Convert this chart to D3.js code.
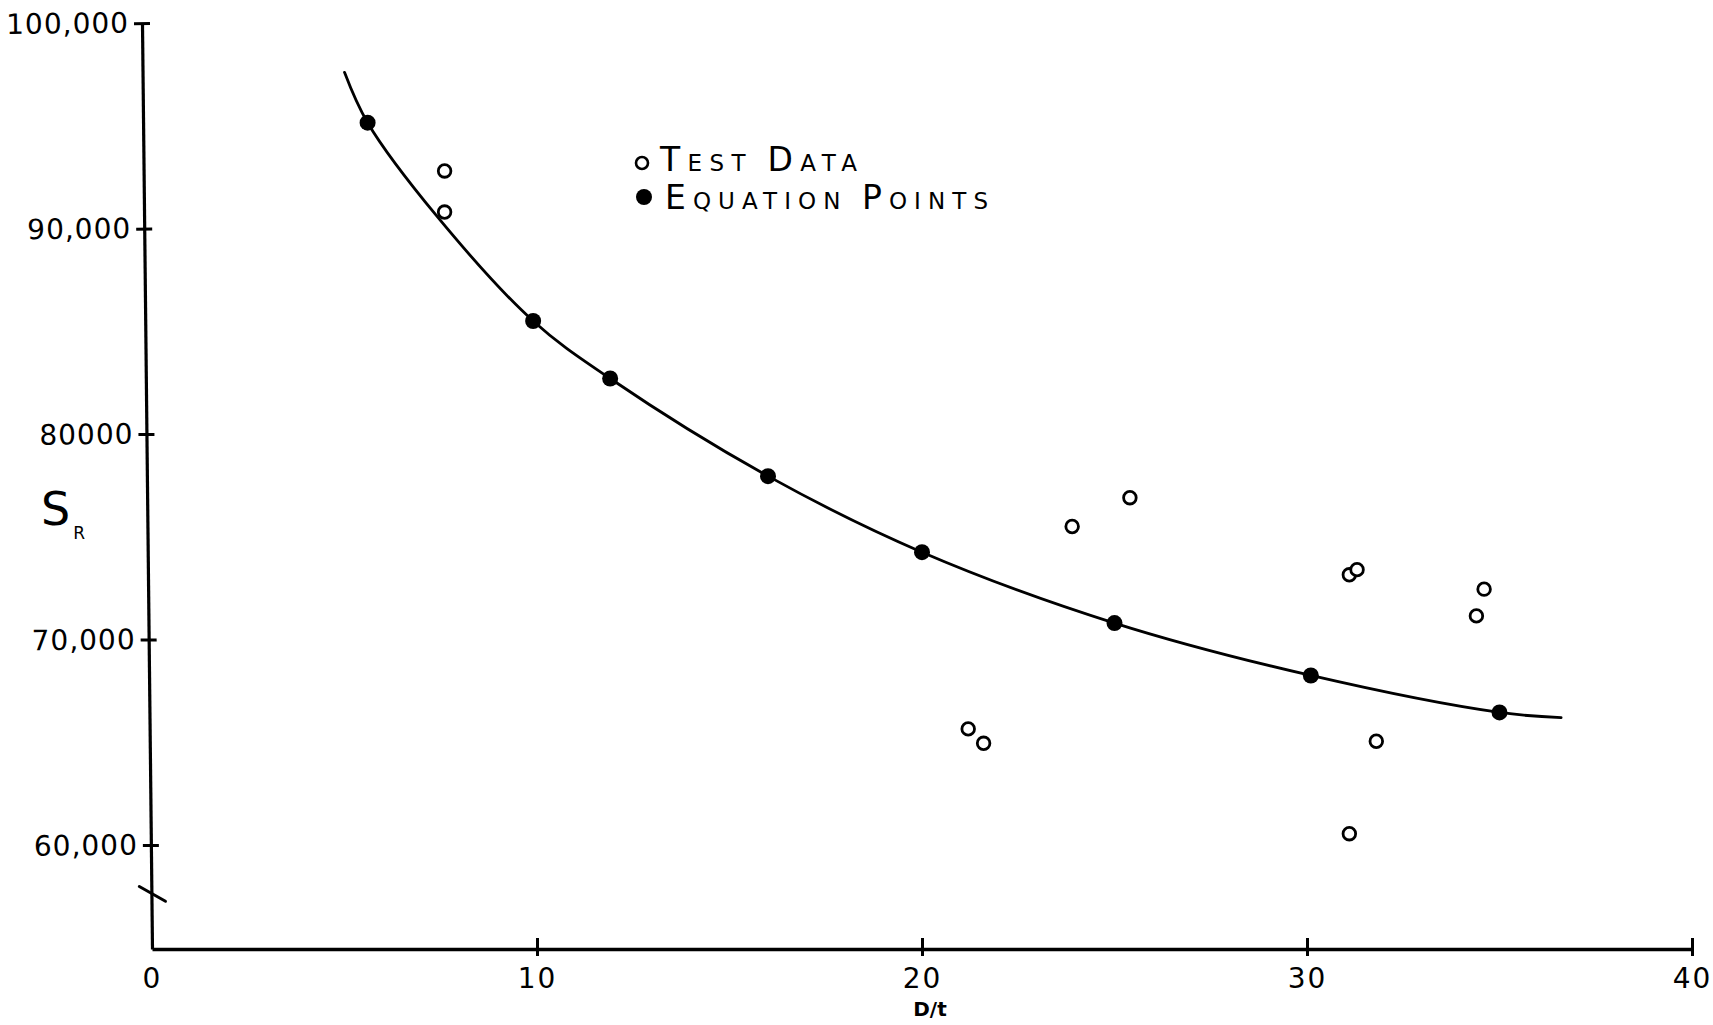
<!DOCTYPE html>
<html>
<head>
<meta charset="utf-8">
<script src="https://cdn.jsdelivr.net/npm/d3@7"></script>
<style>
  html, body { margin: 0; padding: 0; background: #fff; }
  svg { display: block; }
  text { font-family: "DejaVu Sans", sans-serif; fill: #000; }
</style>
</head>
<body>
<svg id="chart" width="1713" height="1025"></svg>
<script>
// Axis ticks and labels
const xTicks = [0, 10, 20, 30, 40];
const xTickLabels = ["0", "10", "20", "30", "40"];
const yTicks = [60000, 70000, 80000, 90000, 100000];
const yTickLabels = ["60,000", "70,000", "80000", "90,000", "100,000"];

// Equation points (filled dots)
const eqX = [5.6, 9.9, 11.9, 16.0, 20.0, 25.0, 30.1, 35.0];
const eqY = [95150, 85500, 82700, 77950, 74250, 70800, 68250, 66450];

// Test data (open circles)
const testX = [7.6, 7.6, 21.2, 21.6, 23.9, 25.4, 31.1, 31.3, 34.4, 34.6, 31.8, 31.1];
const testY = [92800, 90800, 65650, 64950, 75500, 76900, 73150, 73400, 71150, 72450, 65050, 60550];

// Hand-faired curve through the equation points
const curveX = [5.0, 5.6, 7.4, 9.9, 11.9, 16.0, 20.0, 25.0, 30.1, 35.0, 36.6];
const curveY = [97600, 95150, 90600, 85500, 82700, 77950, 74250, 70800, 68250, 66450, 66200];

const svg = d3.select("#chart");
const ink = "#000";

// y axis has a break below 60,000; the corner sits a little under 55,000
const x = d3.scaleLinear().domain([0, 40]).range([152, 1692]);
const y = d3.scaleLinear().domain([54940, 100000]).range([949, 23]);

const x0 = x(0), y0 = y.range()[0];

// ---- Y axis (drawn with a slight lean, as on the sheet) ----
const yAxis = d3.axisLeft(y)
  .tickValues(yTicks)
  .tickFormat((d, i) => yTickLabels[i])
  .tickSize(0)
  .tickSizeOuter(0)
  .tickPadding(13);

const gy = svg.append("g")
  .attr("transform", `translate(${x0},0) rotate(-0.62,0,${y0})`)
  .call(yAxis);
gy.select(".domain").attr("stroke", ink).attr("stroke-width", 3.2);
gy.selectAll(".tick line").attr("x1", -8).attr("x2", 8)
  .attr("stroke", ink).attr("stroke-width", 3);
gy.selectAll(".tick text")
  .attr("font-size", 28).attr("letter-spacing", 1).attr("fill", ink);

// axis break mark
gy.append("line")
  .attr("x1", -12).attr("y1", y(57600) - 8)
  .attr("x2", 14).attr("y2", y(57600) + 7)
  .attr("stroke", ink).attr("stroke-width", 3).attr("stroke-linecap", "round");

// ---- X axis ----
const xAxis = d3.axisBottom(x)
  .tickValues(xTicks)
  .tickFormat((d, i) => xTickLabels[i])
  .tickSize(0)
  .tickSizeOuter(0)
  .tickPadding(19);

const gx = svg.append("g")
  .attr("transform", `translate(0,${y0})`)
  .call(xAxis);
gx.select(".domain").attr("stroke", ink).attr("stroke-width", 3.4);
gx.selectAll(".tick line")
  .attr("y1", -11).attr("y2", 7)
  .attr("stroke", ink).attr("stroke-width", 3)
  .attr("display", d => d === 0 ? "none" : null);
gx.selectAll(".tick text")
  .attr("font-size", 28).attr("letter-spacing", 2).attr("fill", ink);

// axis titles
svg.append("text")
  .attr("x", 930).attr("y", 1016)
  .attr("text-anchor", "middle")
  .attr("font-size", 20)
  .attr("font-weight", "bold")
  .text("D/t");

const sLabel = svg.append("text").attr("x", 41).attr("y", 525);
sLabel.append("tspan").attr("font-size", 46).text("S");
sLabel.append("tspan").attr("font-size", 17).attr("dx", 3).attr("dy", 14).text("R");

// ---- Fitted curve ----
const curveData = curveX.map((d, i) => [d, curveY[i]]);
svg.append("path")
  .datum(curveData)
  .attr("fill", "none")
  .attr("stroke", ink)
  .attr("stroke-width", 2.8)
  .attr("stroke-linecap", "round")
  .attr("d", d3.line()
    .x(d => x(d[0]))
    .y(d => y(d[1]))
    .curve(d3.curveCatmullRom.alpha(0.5)));

// ---- Equation points ----
svg.append("g").selectAll("circle")
  .data(eqX.map((d, i) => [d, eqY[i]]))
  .join("circle")
  .attr("cx", d => x(d[0]))
  .attr("cy", d => y(d[1]))
  .attr("r", 8)
  .attr("fill", ink);

// ---- Test data ----
svg.append("g").selectAll("circle")
  .data(testX.map((d, i) => [d, testY[i]]))
  .join("circle")
  .attr("cx", d => x(d[0]))
  .attr("cy", d => y(d[1]))
  .attr("r", 6.3)
  .attr("fill", "#fff")
  .attr("stroke", ink)
  .attr("stroke-width", 2.8);

// ---- Legend ----
const legend = svg.append("g");
legend.append("circle").attr("cx", 642).attr("cy", 163).attr("r", 6)
  .attr("fill", "#fff").attr("stroke", ink).attr("stroke-width", 2.6);
legend.append("circle").attr("cx", 644).attr("cy", 197).attr("r", 8).attr("fill", ink);

function smallCaps(g, xPos, yPos, parts, width) {
  const t = g.append("text").attr("x", xPos).attr("y", yPos)
    .attr("textLength", width).attr("lengthAdjust", "spacing");
  parts.forEach(([s, big]) => t.append("tspan").attr("font-size", big ? 33 : 23).text(s));
}
smallCaps(legend, 660, 171, [["T", 1], ["EST ", 0], ["D", 1], ["ATA", 0]], 197);
smallCaps(legend, 665, 209, [["E", 1], ["QUATION ", 0], ["P", 1], ["OINTS", 0]], 323);
</script>
</body>
</html>
